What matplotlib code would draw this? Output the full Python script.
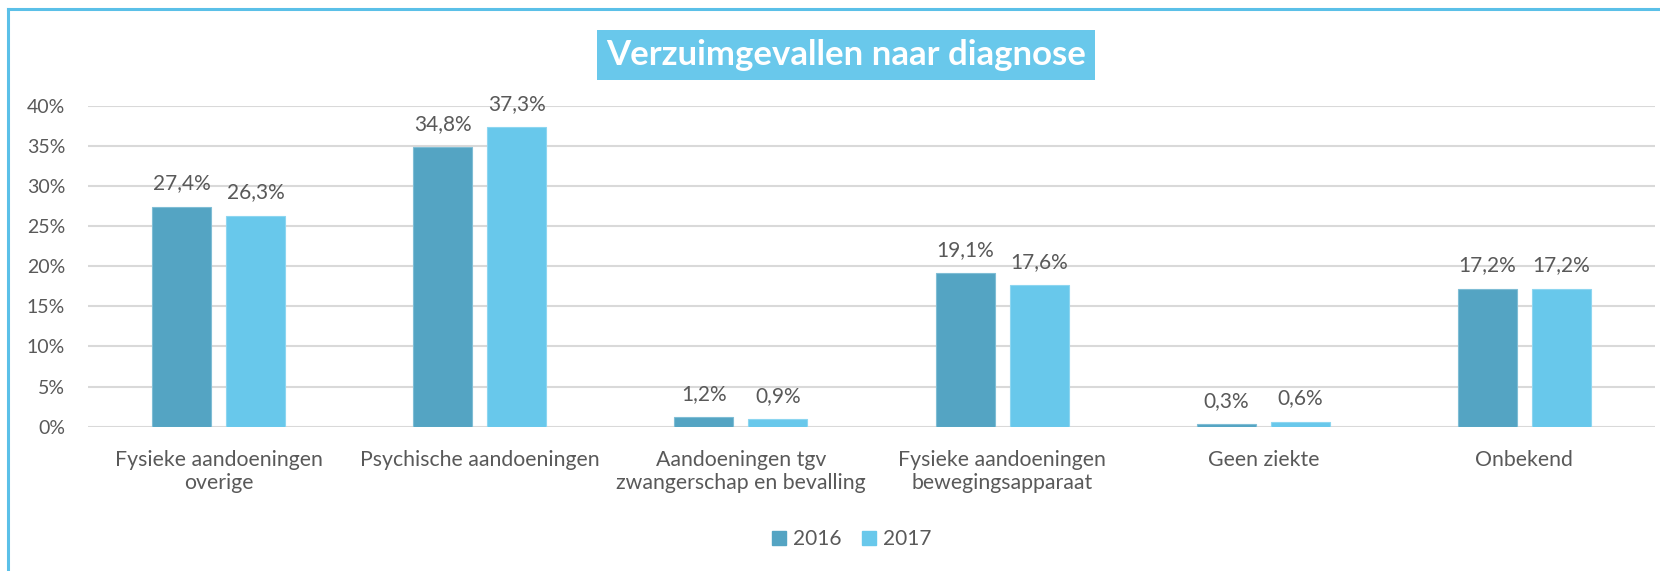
import matplotlib
matplotlib.use("Agg")
import matplotlib.pyplot as plt
import numpy as np
from matplotlib.lines import Line2D
from matplotlib.patches import Rectangle

categories = ["Fysieke aandoeningen\noverige", "Psychische aandoeningen",
              "Aandoeningen tgv\nzwangerschap en bevalling",
              "Fysieke aandoeningen\nbewegingsapparaat", "Geen ziekte", "Onbekend"]
series_names = ["2016", "2017"]
values_2016 = [27.4, 34.8, 1.2, 19.1, 0.3, 17.2]
values_2017 = [26.3, 37.3, 0.9, 17.6, 0.6, 17.2]
yticks = [0, 5, 10, 15, 20, 25, 30, 35, 40]
title = "Verzuimgevallen naar diagnose"

plt.rcParams['font.family'] = ['Lato', 'DejaVu Sans']
TXT = '#595959'
C16 = '#54A4C3'
C17 = '#68C8EB'
FRAME = '#5BC0E8'

W, H = 1660, 571
fig = plt.figure(figsize=(W / 100, H / 100), dpi=100)
ax = fig.add_axes([88 / W, 1 - 426.7 / H, (1655 - 88) / W, (426.7 - 105.7) / H])

x = np.arange(len(categories))
bw = 0.226
off = 0.1417
b1 = ax.bar(x - off, values_2016, bw, color=C16, edgecolor='#7FBDD5', linewidth=0.8, label=series_names[0], zorder=3)
b2 = ax.bar(x + off, values_2017, bw, color=C17, edgecolor='#8DD6F0', linewidth=0.8, label=series_names[1], zorder=3)

for bars, vals in ((b1, values_2016), (b2, values_2017)):
    for r, v in zip(bars, vals):
        ax.annotate(f"{v:.1f}%".replace('.', ','), (r.get_x() + r.get_width() / 2, v),
                    xytext=(0, 12.5), textcoords='offset points', ha='center', va='baseline',
                    fontsize=15, color=TXT)

ax.set_xlim(-0.5, len(categories) - 0.5)
ax.set_ylim(0, 40)
ax.set_yticks(yticks)
ax.set_yticklabels([f"{t}%" for t in yticks])
ax.set_xticks(x)
ax.set_xticklabels(categories, fontsize=15.3, color=TXT, linespacing=1.15)
ax.tick_params(axis='y', length=0, pad=16.5, labelsize=14, labelcolor=TXT)
ax.tick_params(axis='x', length=0, pad=17)
ax.grid(axis='y', color='#D9D9D9', linewidth=1.5, zorder=0)
ax.set_axisbelow(True)
for s in ax.spines.values():
    s.set_visible(False)

# Title box
fig.text(846 / W, 1 - 55 / H, title, ha='center', va='center', fontsize=25,
         fontweight='bold', color='white',
         bbox=dict(boxstyle='square,pad=0.26', facecolor='#69C8EB', edgecolor='none'))

# Legend
leg = fig.legend(handles=[Rectangle((0, 0), 1, 1, color=C16), Rectangle((0, 0), 1, 1, color=C17)],
                 labels=series_names, loc='center', bbox_to_anchor=(852 / W, 1 - 539 / H),
                 ncol=2, frameon=False, fontsize=15, handlelength=0.65, handleheight=0.65,
                 handletextpad=0.35, columnspacing=1.0, labelcolor=TXT)

# Frame (left and top lines)
fig.add_artist(Line2D([8 / W, 8 / W], [0, 1 - 9 / H], color=FRAME, linewidth=2.2, transform=fig.transFigure))
fig.add_artist(Line2D([8 / W, 1], [1 - 9 / H, 1 - 9 / H], color=FRAME, linewidth=2.2, transform=fig.transFigure))

fig.savefig("out.png", dpi=100)
